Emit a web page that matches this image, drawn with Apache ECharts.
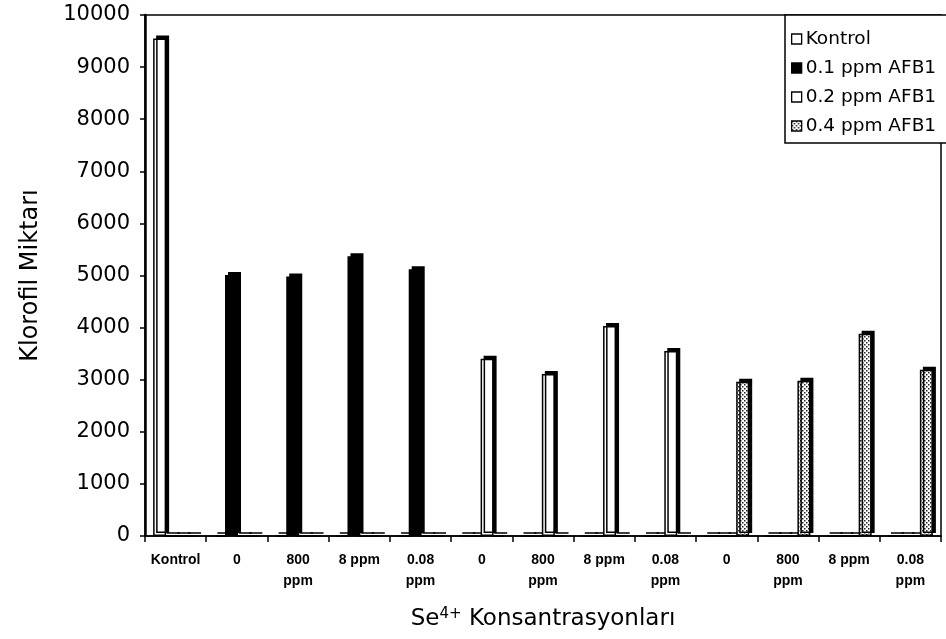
<!DOCTYPE html>
<html><head><meta charset="utf-8">
<script src="https://cdn.jsdelivr.net/npm/echarts@6/dist/echarts.min.js"></script>
<style>html,body{margin:0;padding:0;background:#fff}#c{width:946px;height:639px}</style>
</head><body><div id="c"></div>
<script>
const categories = ['Kontrol','0','800\nppm','8 ppm','0.08\nppm','0','800\nppm','8 ppm','0.08\nppm','0','800\nppm','8 ppm','0.08\nppm'];
const seriesNames = ['Kontrol','0.1 ppm AFB1','0.2 ppm AFB1','0.4 ppm AFB1'];
const kontrolValues = [9550,0,0,0,0,0,0,0,0,0,0,0,0];
const afb1Low = [0,5010,4980,5370,5120,0,0,0,0,0,0,0,0];
const afb1Mid = [0,0,0,0,0,3400,3110,4030,3550,0,0,0,0];
const afb1High = [0,0,0,0,0,0,0,0,0,2960,2980,3880,3190];
const yMin = 0, yMax = 10000, yStep = 1000;

function dotPattern(){
  const c = document.createElement('canvas'); c.width = 4; c.height = 4;
  const g = c.getContext('2d');
  g.fillStyle = '#fff'; g.fillRect(0,0,4,4);
  g.fillStyle = '#222'; g.fillRect(0,0,1.5,1.5); g.fillRect(2,2,1.5,1.5);
  return c;
}
const fills = ['#ffffff', '#000000', '#ffffff', {image: dotPattern(), repeat: 'repeat'}];
const values = [kontrolValues, afb1Low, afb1Mid, afb1High];

const chart = echarts.init(document.getElementById('c'), null, {renderer:'canvas'});
chart.setOption({
  animation: false,
  backgroundColor: '#fff',
  grid: {left:145, right:5, top:15, bottom:103, show:true, borderColor:'#000', borderWidth:1.5, backgroundColor:'transparent'},
  legend: {
    orient:'vertical', left:785, top:15,
    data: seriesNames,
    padding:[14, 30, 7, 6],
    borderColor:'#000', borderWidth:1.5, backgroundColor:'#fff',
    itemWidth:10, itemHeight:10, itemGap:9,
    icon:'rect',
    itemStyle:{borderColor:'#000', borderWidth:1.3, shadowBlur:0, shadowOffsetX:0, shadowOffsetY:0, shadowColor:'transparent'},
    textStyle:{fontFamily:'DejaVu Sans', fontSize:18.5, color:'#000', lineHeight:20, padding:[0,0,0,-1]}
  },
  xAxis: {
    type:'category', data: categories,
    axisLine:{lineStyle:{color:'#000', width:1.5}},
    axisTick:{show:true, length:6, lineStyle:{color:'#000', width:1.5}},
    axisLabel:{color:'#000', fontFamily:'Liberation Sans', fontWeight:'bold', fontSize:14, lineHeight:21, margin:14, interval:0},
    name:'{a|Se}{s|4+}{a| Konsantrasyonları}',
    nameLocation:'middle', nameGap:71,
    nameTextStyle:{rich:{
      a:{fontFamily:'DejaVu Sans', fontSize:23, color:'#000'},
      s:{fontFamily:'DejaVu Sans', fontSize:15, color:'#000', verticalAlign:'top', padding:[0,0,10,0]}
    }}
  },
  yAxis: {
    type:'value', min:yMin, max:yMax, interval:yStep,
    splitLine:{show:false},
    axisLine:{show:true, lineStyle:{color:'#000', width:2.5}},
    axisTick:{show:true, length:5, lineStyle:{color:'#000', width:1.5}},
    axisLabel:{color:'#000', fontFamily:'DejaVu Sans', fontSize:21, margin:15, formatter: v => String(v)},
    name:'Klorofil Miktarı', nameLocation:'middle', nameGap:102, nameRotate:90,
    nameTextStyle:{fontFamily:'DejaVu Sans', fontSize:24, color:'#000'}
  },
  series: seriesNames.map((n,i)=>({
    type:'bar', name:n, data: values[i],
    barWidth:13, barGap:'-18%',
    itemStyle:{color: fills[i], borderColor:'#000', borderWidth:1.5,
      shadowColor:'#000', shadowBlur:0, shadowOffsetX:3, shadowOffsetY:-3}
  }))
});
</script></body></html>
